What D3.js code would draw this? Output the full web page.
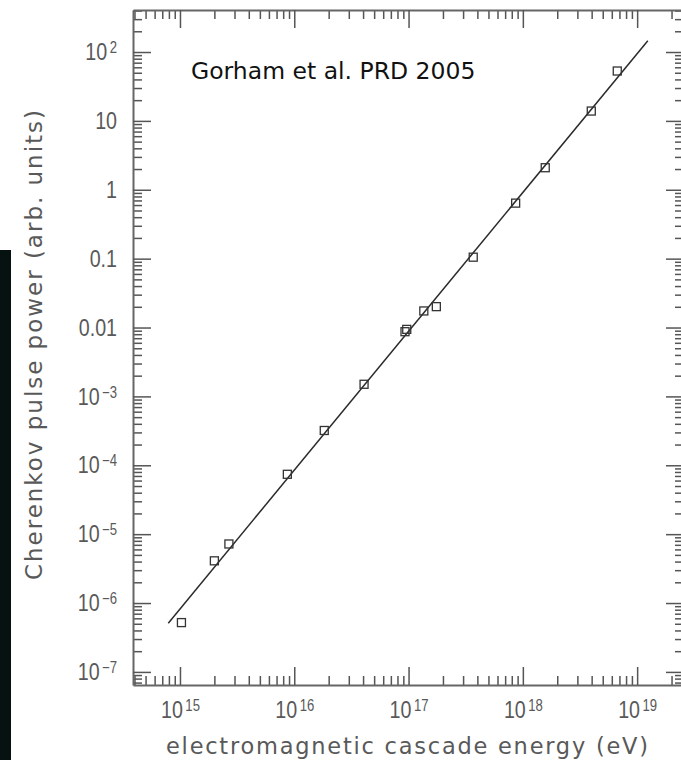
<!DOCTYPE html>
<html>
<head>
<meta charset="utf-8">
<script src="https://cdnjs.cloudflare.com/ajax/libs/d3/7.8.5/d3.min.js"></script>
<style>
  body { margin: 0; background: #fff; }
  .tick line { stroke: #555; stroke-width: 1.5; }
  .domain { stroke: #666; stroke-width: 2; }
</style>
</head>
<body>
<div id="chart"></div>
<script>
// measured points (energy in eV, pulse power in arb. units)
var energy = [1.03e15, 2.0e15, 2.68e15, 8.7e15, 1.83e16, 4.08e16, 9.31e16, 9.64e16,
              1.36e17, 1.75e17, 3.68e17, 8.65e17, 1.57e18, 3.97e18, 6.7e18];
var power = [5.2e-7, 4.1e-6, 7.2e-6, 7.4e-5, 3.2e-4, 1.5e-3, 8.7e-3, 9.4e-3,
             0.0174, 0.0201, 0.105, 0.64, 2.09, 13.9, 53];

// fitted power law (end points of the drawn line)
var fitEnergy = [7.9e14, 1.24e19];
var fitPower = [5.1e-7, 146];

// tick labels
var xTickValues = [1e15, 1e16, 1e17, 1e18, 1e19];
var xTickBase = ["10", "10", "10", "10", "10"];
var xTickExp = ["15", "16", "17", "18", "19"];

var yTickValues = [1e2, 1e1, 1, 0.1, 0.01, 1e-3, 1e-4, 1e-5, 1e-6, 1e-7];
var yTickBase = ["10", "10", "1", "0.1", "0.01", "10", "10", "10", "10", "10"];
var yTickExp = ["2", "", "", "", "", "\u22123", "\u22124", "\u22125", "\u22126", "\u22127"];

var xTitle = "electromagnetic cascade energy (eV)";
var yTitle = "Cherenkov pulse power (arb. units)";
var note = "Gorham et al. PRD 2005";

// layout
var W = 681, H = 760;
var margin = {top: 10, left: 133};
var plotW = 551, plotH = 675;

var svg = d3.select("#chart").append("svg")
  .attr("width", W)
  .attr("height", H);

// dark strip on the left edge of the scan
svg.append("rect")
  .attr("x", 0).attr("y", 250)
  .attr("width", 11).attr("height", H - 250)
  .attr("fill", "#05120f");

var x = d3.scaleLog()
  .domain([Math.pow(10, 14.589), Math.pow(10, 19.41)])
  .range([margin.left, margin.left + plotW]);
var y = d3.scaleLog()
  .domain([Math.pow(10, -7.19), Math.pow(10, 2.61)])
  .range([margin.top + plotH, margin.top]);

var isPow10 = function(v) { return Math.abs(Math.log10(v) - Math.round(Math.log10(v))) < 1e-9; };
var xMinor = x.ticks().filter(function(v) { return !isPow10(v); });
var yMinor = y.ticks().filter(function(v) { return !isPow10(v); });

var labelFont = "'Liberation Sans', Arial, sans-serif";
var squeeze = 0.82;

function styleAxis(sel) {
  sel.attr("font-family", null).attr("font-size", null);
}

function addLabels(sel, base, exp) {
  sel.selectAll(".tick text").each(function(d, i) {
    var t = d3.select(this);
    t.text(null)
      .attr("font-family", labelFont)
      .attr("font-size", 24)
      .attr("fill", "#595959");
    t.append("tspan").text(base[i]);
    if (exp[i]) {
      t.append("tspan")
        .attr("dx", 3)
        .attr("dy", -7)
        .attr("font-size", 16)
        .text(exp[i]);
    }
  });
}

// minor ticks
var minorSets = [
  {axis: d3.axisBottom(x), pos: "translate(0," + (margin.top + plotH) + ")", vals: xMinor},
  {axis: d3.axisTop(x), pos: "translate(0," + margin.top + ")", vals: xMinor},
  {axis: d3.axisLeft(y), pos: "translate(" + margin.left + ",0)", vals: yMinor},
  {axis: d3.axisRight(y), pos: "translate(" + (margin.left + plotW) + ",0)", vals: yMinor}
];
minorSets.forEach(function(s) {
  var g = svg.append("g")
    .attr("transform", s.pos)
    .call(s.axis.tickValues(s.vals).tickSize(-9).tickFormat(""));
  g.select(".domain").remove();
  styleAxis(g);
});

// major ticks and frame
var bottomAxis = svg.append("g")
  .attr("transform", "translate(0," + (margin.top + plotH) + ")")
  .call(d3.axisBottom(x).tickValues(xTickValues).tickSize(-18).tickSizeOuter(0).tickPadding(16).tickFormat(""));
styleAxis(bottomAxis);
addLabels(bottomAxis, xTickBase, xTickExp);
bottomAxis.selectAll(".tick text").attr("transform", "scale(" + squeeze + ",1)");

var topAxis = svg.append("g")
  .attr("transform", "translate(0," + margin.top + ")")
  .call(d3.axisTop(x).tickValues(xTickValues).tickSize(-18).tickSizeOuter(0).tickFormat(""));
styleAxis(topAxis);

var leftAxis = svg.append("g")
  .attr("transform", "translate(" + margin.left + ",0)")
  .call(d3.axisLeft(y).tickValues(yTickValues).tickSize(-18).tickSizeOuter(0).tickPadding(16).tickFormat(""));
styleAxis(leftAxis);
addLabels(leftAxis, yTickBase, yTickExp);
leftAxis.selectAll(".tick text")
  .attr("x", -16 / squeeze)
  .attr("transform", "scale(" + squeeze + ",1)");

var rightAxis = svg.append("g")
  .attr("transform", "translate(" + (margin.left + plotW) + ",0)")
  .call(d3.axisRight(y).tickValues(yTickValues).tickSize(-18).tickSizeOuter(0).tickFormat(""));
styleAxis(rightAxis);

// fit line
var line = d3.line()
  .x(function(d) { return x(d[0]); })
  .y(function(d) { return y(d[1]); });
svg.append("path")
  .datum(d3.zip(fitEnergy, fitPower))
  .attr("d", line)
  .attr("fill", "none")
  .attr("stroke", "#2a2a2a")
  .attr("stroke-width", 1.5);

// data squares
svg.append("g").selectAll("rect")
  .data(d3.zip(energy, power))
  .enter().append("rect")
  .attr("x", function(d) { return x(d[0]) - 4; })
  .attr("y", function(d) { return y(d[1]) - 4; })
  .attr("width", 8)
  .attr("height", 8)
  .attr("fill", "none")
  .attr("stroke", "#333")
  .attr("stroke-width", 1.3);

// axis titles
svg.append("text")
  .attr("x", 166)
  .attr("y", 754)
  .attr("font-family", "'DejaVu Sans', sans-serif")
  .attr("font-size", 22.5)
  .attr("fill", "#595959")
  .attr("textLength", 482)
  .attr("lengthAdjust", "spacing")
  .text(xTitle);

svg.append("text")
  .attr("transform", "translate(42,580) rotate(-90)")
  .attr("font-family", "'DejaVu Sans', sans-serif")
  .attr("font-size", 23)
  .attr("fill", "#595959")
  .attr("textLength", 470)
  .attr("lengthAdjust", "spacing")
  .text(yTitle);

// reference note
svg.append("text")
  .attr("x", 191)
  .attr("y", 79)
  .attr("font-family", "'DejaVu Sans', Verdana, sans-serif")
  .attr("font-size", 23.5)
  .attr("fill", "#111")
  .text(note);
</script>
</body>
</html>
